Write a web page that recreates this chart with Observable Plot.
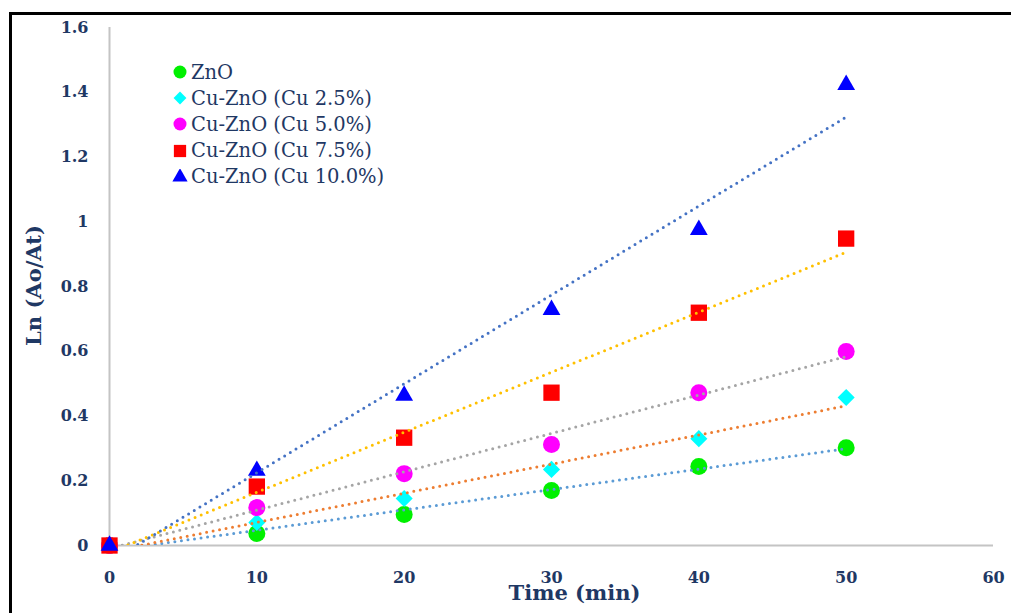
<!DOCTYPE html>
<html>
<head>
<meta charset="utf-8">
<script src="https://cdn.jsdelivr.net/npm/d3@7"></script>
<script src="https://cdn.jsdelivr.net/npm/@observablehq/plot@0.6"></script>
<style>
  html, body { margin: 0; padding: 0; background: #fff; }
  #wrap { position: relative; width: 1011px; height: 613px; overflow: hidden; }
  #frame { position: absolute; left: 9px; top: 12px; width: 1100px; height: 700px;
           border-left: 3px solid #000; border-top: 3px solid #000; }
  #chart { position: absolute; left: 0; top: 0; }
  #legend { position: absolute; left: 172px; top: 59px; font-family: "DejaVu Serif", serif;
            font-size: 19.5px; color: #1f3864; }
  #legend .item { display: flex; align-items: center; height: 26.2px; white-space: nowrap; }
  #legend svg { width: 16px; height: 16px; margin-right: 3px; }
</style>
</head>
<body>
<div id="wrap">
  <div id="frame"></div>
  <div id="chart"></div>
  <div id="legend"></div>
</div>
<script>
// Reaction time (min)
const times = [0, 10, 20, 30, 40, 50];

// Ln(Ao/At) for each catalyst
const znO    = [0, 0.037, 0.096, 0.170, 0.244, 0.302];
const cu2_5  = [0, 0.071, 0.145, 0.235, 0.330, 0.457];
const cu5_0  = [0, 0.117, 0.222, 0.312, 0.472, 0.599];
const cu7_5  = [0, 0.182, 0.333, 0.472, 0.719, 0.948];
const cu10_0 = [0, 0.231, 0.463, 0.728, 0.975, 1.423];

const seriesNames = ["ZnO", "Cu-ZnO (Cu 2.5%)", "Cu-ZnO (Cu 5.0%)", "Cu-ZnO (Cu 7.5%)", "Cu-ZnO (Cu 10.0%)"];
const seriesValues = [znO, cu2_5, cu5_0, cu7_5, cu10_0];
const markerColors = ["#00f000", "#00ffff", "#ff00ff", "#ff0000", "#0000ff"];
const trendColors = ["#5b9bd5", "#ed7d31", "#a5a5a5", "#ffc000", "#4472c4"];
const symbols = ["circle", "diamond2", "circle", "square", "triangle"];
const radii = [8.5, 7.7, 8.5, 9.2, 6.6];

const xTicks = [0, 10, 20, 30, 40, 50, 60];
const yTicks = [0, 0.2, 0.4, 0.6, 0.8, 1, 1.2, 1.4, 1.6];

const rows = seriesNames.map((name, i) =>
  times.map((t, j) => ({series: name, time: t, value: seriesValues[i][j]})));

const navy = "#1f3864";
const axisGray = "#c4c4c4";

const marks = [
  Plot.ruleX([0], {stroke: axisGray, strokeWidth: 2}),
  Plot.ruleY([0], {stroke: axisGray, strokeWidth: 2}),
  Plot.axisX({ticks: xTicks, tickSize: 0, tickPadding: 26, fontSize: 16, fontWeight: "bold",
              fill: navy, label: null, tickFormat: d => String(d)}),
  Plot.axisY({ticks: yTicks, tickSize: 0, tickPadding: 21, fontSize: 16, fontWeight: "bold",
              fill: navy, label: null, tickFormat: d => String(+d.toFixed(1))}),
  // markers, one series after another
  ...rows.map((data, i) => Plot.dot(data, {
    x: "time", y: "value", symbol: symbols[i], r: radii[i], fill: markerColors[i], stroke: "none"
  })),
  // dotted linear trendlines on top of the markers
  ...rows.map((data, i) => Plot.linearRegressionY(data, {
    x: "time", y: "value", ci: 0, stroke: trendColors[i], strokeWidth: 3,
    strokeDasharray: "0 6.6", strokeLinecap: "round", clip: true
  })),
  Plot.text(["Time (min)"], {frameAnchor: "bottom", lineAnchor: "middle", dx: 23, dy: 48, fontSize: 21,
    fontWeight: "bold", fill: navy}),
  Plot.text(["Ln (Ao/At)"], {frameAnchor: "left", textAnchor: "middle", lineAnchor: "middle",
    rotate: -90, dx: -75, dy: -1, fontSize: 21, fontWeight: "bold", fill: navy})
];

const chart = Plot.plot({
  width: 1011,
  height: 613,
  marginLeft: 109,
  marginRight: 18,
  marginTop: 27,
  marginBottom: 68,
  x: {domain: [0, 60]},
  y: {domain: [0, 1.6]},
  style: {fontFamily: "'DejaVu Serif', serif", background: "transparent", color: navy},
  marks
});
document.getElementById("chart").appendChild(chart);

// legend
const legend = d3.select("#legend");
seriesNames.forEach((name, i) => {
  const item = legend.append("div").attr("class", "item");
  const svg = item.append("svg").attr("viewBox", "-8 -8 16 16");
  const size = {circle: 133, diamond2: 105, square: 150, triangle: 100}[symbols[i]];
  const sym = {circle: d3.symbolCircle, diamond2: d3.symbolDiamond2, square: d3.symbolSquare, triangle: d3.symbolTriangle}[symbols[i]];
  svg.append("path").attr("d", d3.symbol(sym, size)()).attr("fill", markerColors[i]);
  item.append("span").text(name);
});
</script>
</body>
</html>
